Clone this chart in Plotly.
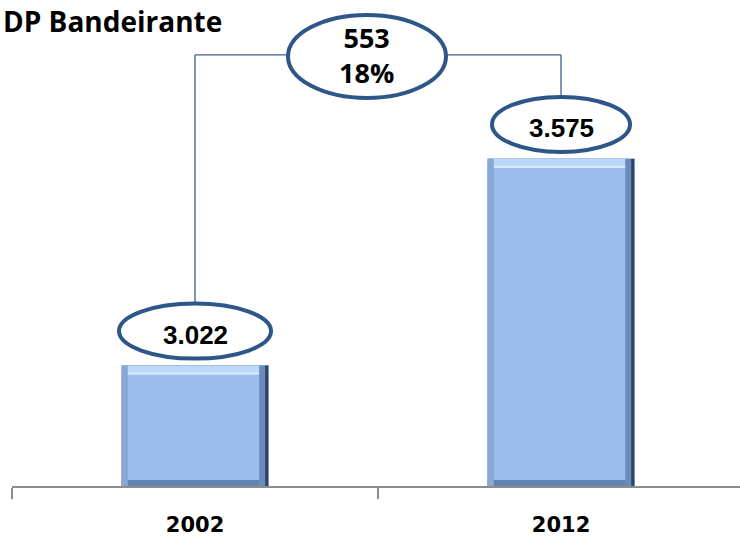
import plotly.graph_objects as go

years = ['2002', '2012']
values = [3022, 3575]
value_labels = ['3.022', '3.575']
diff_label = '553'
pct_label = '18%'
title = 'DP Bandeirante'

y_range = [2700, 4000]
bracket_frac = 0.887
ell_color = '#2f5688'
ell_half = [76, 69]
bar_w = 0.4

H = 537
margin_t, margin_b = 0, 51
px = (y_range[1] - y_range[0]) / (H - margin_t - margin_b)

fig = go.Figure(
    data=[
        go.Bar(
            x=years,
            y=values,
            width=bar_w,
            marker=dict(color='#9cbdeb', line=dict(color='#7f9fcf', width=1)),
            hoverinfo='skip',
        )
    ]
)

# bevel look on the bars
for i, v in enumerate(values):
    fig.add_shape(type='rect', xref='x', yref='y', ysizemode='pixel', yanchor=v,
                  x0=i - bar_w / 2, x1=i + bar_w / 2, y0=-9, y1=0,
                  fillcolor='#bcd8f8', line_width=0)
    fig.add_shape(type='rect', xref='x', yref='y', ysizemode='pixel', yanchor=v,
                  x0=i - bar_w / 2, x1=i + bar_w / 2, y0=-9, y1=-7,
                  fillcolor='#d6ecff', line_width=0)
    fig.add_shape(type='rect', xref='x', yref='y', ysizemode='pixel', yanchor=y_range[0],
                  x0=i - bar_w / 2, x1=i + bar_w / 2, y0=0, y1=6,
                  fillcolor='#6282b2', line_width=0)
    fig.add_shape(type='rect', xref='x', yref='y', xsizemode='pixel', xanchor=i - bar_w / 2,
                  x0=0, x1=6, y0=y_range[0], y1=v,
                  fillcolor='#88a8d8', line_width=0)
    fig.add_shape(type='rect', xref='x', yref='y', xsizemode='pixel', xanchor=i + bar_w / 2,
                  x0=-9, x1=0, y0=y_range[0], y1=v,
                  fillcolor='#6a8aba', line_width=0)
    fig.add_shape(type='rect', xref='x', yref='y', xsizemode='pixel', xanchor=i + bar_w / 2,
                  x0=-3, x1=0, y0=y_range[0], y1=v,
                  fillcolor='#2f4462', line_width=0)

bracket_val = y_range[0] + bracket_frac * (y_range[1] - y_range[0])

# connector lines from each label up to the bracket
for i, v in enumerate(values):
    fig.add_shape(type='line', xref='x', yref='y', x0=i, x1=i, y0=v + 40 * px, y1=bracket_val,
                  line=dict(color='#3b5f8f', width=1.3))
fig.add_shape(type='line', xref='x', yref='paper', x0=0, x1=1,
              y0=bracket_frac, y1=bracket_frac, line=dict(color='#3b5f8f', width=1.3))

# value ellipses above the bars
for i, (v, lab) in enumerate(zip(values, value_labels)):
    fig.add_shape(type='circle', xref='x', yref='y', xsizemode='pixel', ysizemode='pixel',
                  xanchor=i, yanchor=v, x0=-ell_half[i], x1=ell_half[i], y0=7, y1=62,
                  fillcolor='white', line=dict(color=ell_color, width=4))
    fig.add_annotation(x=i, y=v, xref='x', yref='y', text='<b>' + lab + '</b>',
                       showarrow=False, yshift=31, yanchor='middle',
                       font=dict(family='Liberation Sans', size=26, color='black'))

# difference ellipse
fig.add_shape(type='circle', xref='x', yref='paper', xsizemode='pixel', ysizemode='pixel',
              xanchor=0.5, yanchor=bracket_frac, x0=-90, x1=68, y0=-43, y1=40,
              fillcolor='white', line=dict(color=ell_color, width=4))
fig.add_annotation(x=0.5, y=bracket_frac, xref='x', yref='paper', xshift=-12, yanchor='middle',
                   text='<b>' + diff_label + '<br>' + pct_label + '</b>', showarrow=False,
                   font=dict(family='Open Sans', size=27, color='black'))

fig.add_annotation(x=0, y=1, xref='paper', yref='paper', xanchor='left', yanchor='top',
                   xshift=-11, yshift=0, text='<b>' + title + '</b>', showarrow=False,
                   font=dict(family='Open Sans', size=28, color='black'))

fig.update_layout(
    width=740,
    height=H,
    margin=dict(l=12, r=0, t=margin_t, b=margin_b),
    paper_bgcolor='white',
    plot_bgcolor='white',
    showlegend=False,
    xaxis=dict(
        type='category',
        range=[-0.5, 1.489],
        tickson='boundaries',
        ticks='outside',
        ticklen=11,
        tickcolor='#8c8c8c',
        tickwidth=1.5,
        showline=True,
        linecolor='#8c8c8c',
        linewidth=2,
        showgrid=False,
        ticklabelstandoff=19,
        tickfont=dict(family='DejaVu Sans', size=21, color='black'),
        tickprefix='<b>',
        ticksuffix='</b>',
    ),
    yaxis=dict(range=y_range, visible=False, showgrid=False),
)

fig.write_html('out.html', config={'displayModeBar': False},
               post_script="document.body.style.margin='0';")
